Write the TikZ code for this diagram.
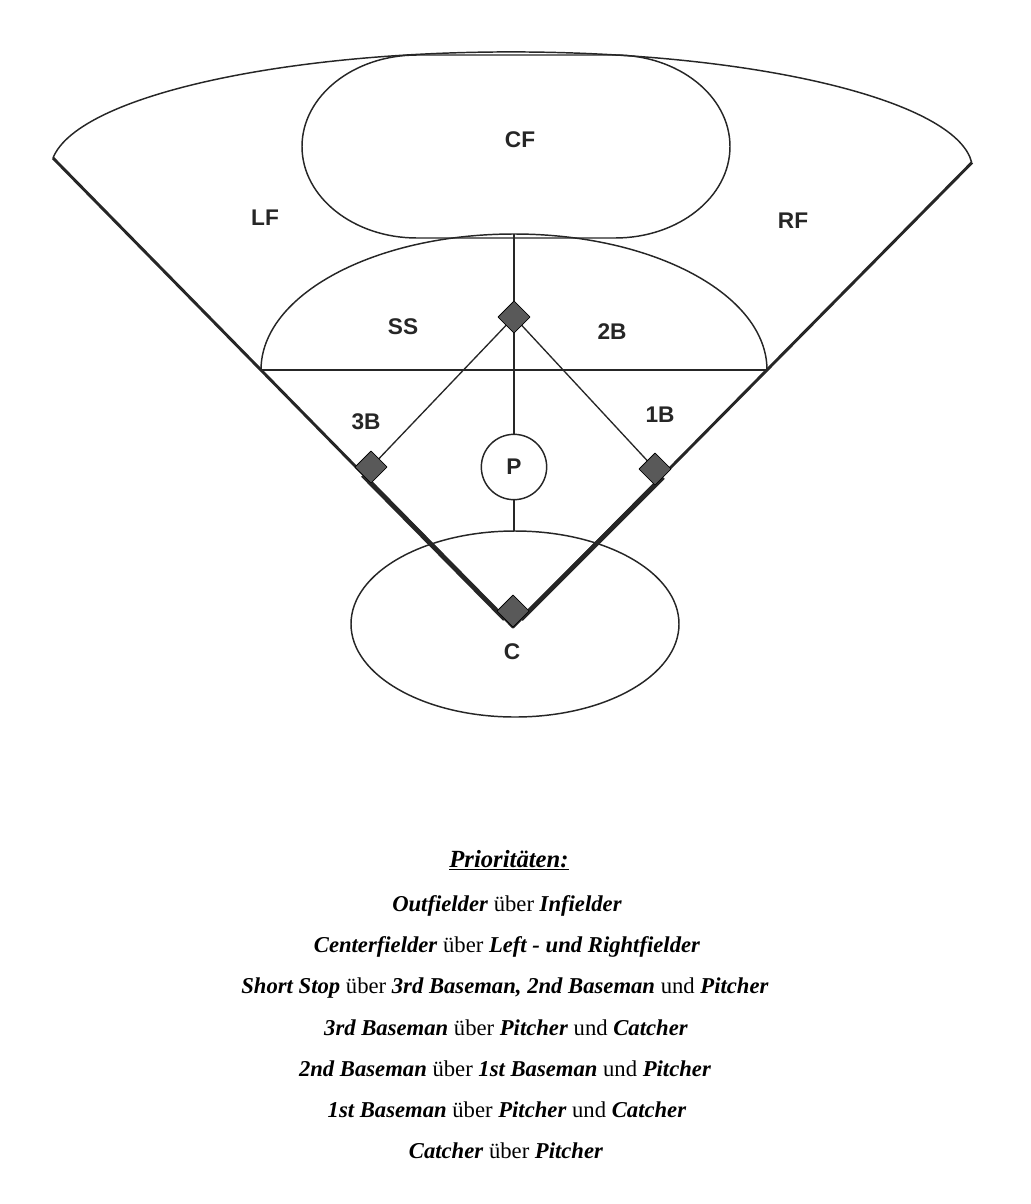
\documentclass[tikz,border=0pt]{standalone}
\usepackage{fontspec}
\setmainfont{Liberation Serif}
\setsansfont{Liberation Sans}
\usetikzlibrary{shapes.geometric}
\newcommand{\role}[1]{\textbf{\textit{#1}}}

\begin{document}
\begin{tikzpicture}[x=0.75pt,y=0.75pt,line join=round,
	area/.style={draw=black!85,line width=1.1pt},
	baseline path/.style={draw=black!85,line width=1pt},
	foul/.style={draw=black!85,line width=2.2pt},
	bag/.style={diamond,draw=black,fill=black!65,inner sep=0pt,minimum width=24pt,minimum height=24pt},
	fieldpos/.style={inner sep=0pt,text=black!85,font=\sffamily\bfseries\fontsize{17}{17}\selectfont},
	prio/.style={inner sep=0pt,font=\fontsize{17}{17}\selectfont}]
	\useasboundingbox (0,0) rectangle (1031,-1204);

	\coordinate (A) at (513,-627);
	\coordinate (L) at (53,-158);
	\coordinate (R) at (972,-162.5);
	\coordinate (IL) at (261,-370);
	\coordinate (IR) at (767,-370);
	\coordinate (IT) at (514,-234);
	\coordinate (CT) at (514,-531);

	\draw[area] (L) arc [start angle=174.2, end angle=3.6, x radius=461, y radius=118];
	\draw[area] (417,-55) -- (615,-55) arc [start angle=90, end angle=-90, x radius=115, y radius=91.5]
		-- (417,-238) arc [start angle=270, end angle=90, x radius=115, y radius=91.5] -- cycle;
	\draw[area] (IL) arc [start angle=180, end angle=0, x radius=253, y radius=136];
	\draw[baseline path] (IL) -- (IR);
	\draw[area] (515,-624) ellipse [x radius=164, y radius=93];
	\draw[foul] (L) -- (A) -- (R);

	\node[bag] (home) at (513,-611) {};
	\node[bag] (3B) at (371,-467) {};
	\node[bag] (1B) at (655,-469) {};
	\node[bag] (2B) at (514,-317) {};
	\node[fieldpos,circle,draw=black!85,line width=1.1pt,minimum size=49pt] (P) at (514,-467) {P};

	\draw[foul,line width=3.6pt] (home.south west) -- (3B.south west);
	\draw[foul,line width=3.6pt] (home.south east) -- (1B.south east);
	\draw[baseline path] (3B) -- (2B) -- (1B);
	\draw[baseline path] (IT) -- (2B) -- (P) -- (CT);
	\node[bag] at (home) {};
	\node[bag] at (3B) {};
	\node[bag] at (1B) {};
	\node[bag] at (2B) {};

	\node[fieldpos] (cf) at (520,-140) {CF};
	\node[fieldpos] (lf) at (265,-218) {LF};
	\node[fieldpos] (rf) at (793,-221) {RF};
	\node[fieldpos] (ss) at (403,-327) {SS};
	\node[fieldpos] (sb) at (612,-332) {2B};
	\node[fieldpos] (tb) at (366,-422) {3B};
	\node[fieldpos] (fb) at (660,-415) {1B};
	\node[fieldpos] (c) at (512,-652) {C};

	\node[prio,font=\fontsize{18.5}{18.5}\selectfont] (p0) at (509,-860) {\underline{\role{Prioritäten:}}};
	\node[prio] (p1) at (507,-906) {\role{Outfielder} über \role{Infielder}};
	\node[prio] (p2) at (507,-947) {\role{Centerfielder} über \role{Left - und Rightfielder}};
	\node[prio] (p3) at (505,-988) {\role{Short Stop} über \role{3rd Baseman, 2nd Baseman} und \role{Pitcher}};
	\node[prio] (p4) at (506,-1028) {\role{3rd Baseman} über \role{Pitcher} und \role{Catcher}};
	\node[prio] (p5) at (505,-1069) {\role{2nd Baseman} über \role{1st Baseman} und \role{Pitcher}};
	\node[prio] (p6) at (507,-1110) {\role{1st Baseman} über \role{Pitcher} und \role{Catcher}};
	\node[prio] (p7) at (506,-1151) {\role{Catcher} über \role{Pitcher}};
\end{tikzpicture}
\end{document}
